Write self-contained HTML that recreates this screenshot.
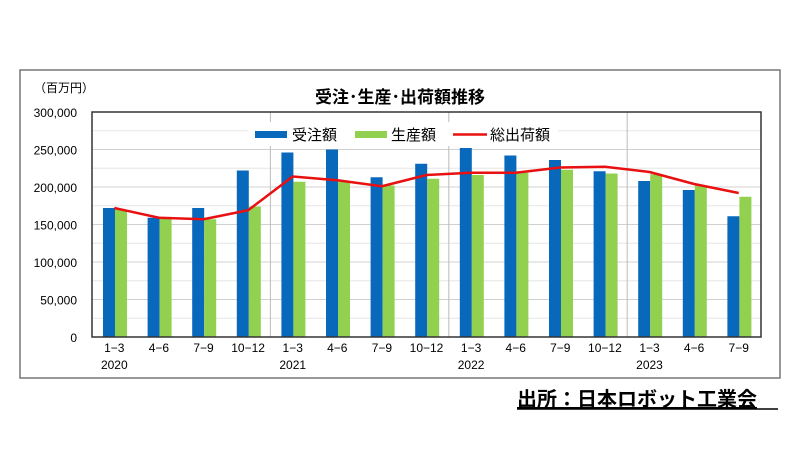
<!DOCTYPE html>
<html><head><meta charset="utf-8"><style>
body{margin:0;background:#fff;width:800px;height:449px;overflow:hidden;font-family:"Liberation Sans","Noto Sans CJK JP",sans-serif;}
svg text{font-family:"Liberation Sans","Noto Sans CJK JP",sans-serif;}
</style></head><body>
<svg width="800" height="449">
<rect x="20" y="70" width="760" height="308" fill="#fff" stroke="#777" stroke-width="1.5"/>
<text x="400" y="103" text-anchor="middle" font-size="17" font-weight="bold">受注･生産･出荷額推移</text>
<text x="34" y="92" font-size="12">（百万円）</text>
<g id="grid"></g>
<g id="bars"></g>
<rect x="248" y="122" width="310" height="24" fill="#fff"/>
<g id="line"></g>
<rect x="92" y="112" width="669" height="225" fill="none" stroke="#333" stroke-width="1.5"/>
<g id="axis"></g>
<g>
<rect x="255" y="131" width="32" height="7" fill="#0868BB"/>
<text x="292" y="140" font-size="15">受注額</text>
<rect x="355" y="131" width="32" height="7" fill="#92D050"/>
<text x="391" y="140" font-size="15">生産額</text>
<line x1="453" y1="134.5" x2="487" y2="134.5" stroke="#E81010" stroke-width="2.5"/>
<text x="490" y="140" font-size="15">総出荷額</text>
</g>
<text x="517" y="406" font-size="20" font-weight="bold" text-decoration="underline">出所：日本ロボット工業会</text>
<line x1="517" y1="409" x2="778" y2="409" stroke="#000" stroke-width="1.5"/>
</svg>
<script>
const categories=["1-3","4-6","7-9","10-12","1-3","4-6","7-9","10-12","1-3","4-6","7-9","10-12","1-3","4-6","7-9"];
const years=["2020","2021","2022","2023"];
const orders=[172,159,172,222,246,250,213,231,252,242,236,221,208,196,161];
const production=[170,158,157,174,207,207,202,211,216,219,223,218,217,202,187];
const shipments=[172,159,157,169,214,209,201,216,219,219,226,227,220,204,192];
const yTicks=[0,50000,100000,150000,200000,250000,300000];
const NS="http://www.w3.org/2000/svg";
const L=92,R=761,T=112,B=337,MAX=300;
const cw=(R-L)/categories.length;
const y=v=>B-(v/MAX)*(B-T);
const xc=i=>L+cw*i;
function mk(t,a,p){const e=document.createElementNS(NS,t);for(const k in a)e.setAttribute(k,a[k]);p.appendChild(e);return e;}
const grid=document.getElementById('grid'),bars=document.getElementById('bars'),line=document.getElementById('line'),axis=document.getElementById('axis');
for(let v=25;v<300;v+=25){const g=mk('line',{x1:L,x2:R,y1:y(v),y2:y(v),stroke:v%50?'#e6e6e6':'#d0d0d0','stroke-width':1},grid);

}
for(let i=4;i<categories.length;i+=4){const s=mk('line',{x1:xc(i),x2:xc(i),y1:T,y2:B,stroke:'#bbb','stroke-width':1},grid);

}
yTicks.forEach(v=>{const t=mk('text',{x:77,y:y(v/1000)+5,'text-anchor':'end','font-size':12},axis);t.textContent=v.toLocaleString('en-US');

});
categories.forEach((c,i)=>{
const b=mk('rect',{x:xc(i)+11,y:y(orders[i]),width:12,height:B-y(orders[i]),fill:'#0868BB'},bars);


const g=mk('rect',{x:xc(i)+23,y:y(production[i]),width:12,height:B-y(production[i]),fill:'#92D050'},bars);


const t=mk('text',{x:xc(i)+cw/2,y:352,'text-anchor':'middle','font-size':12},axis);t.textContent=c.replace('-','−');


});
years.forEach((yr,k)=>{const t=mk('text',{x:xc(k*4)+cw/2,y:369,'text-anchor':'middle','font-size':12},axis);t.textContent=yr;

});
const pts=shipments.map((v,i)=>(xc(i)+cw/2)+','+y(v)).join(' ');
const pl=mk('polyline',{points:pts,fill:'none',stroke:'#E81010','stroke-width':2.5,'stroke-linejoin':'round'},line);


</script>
</body></html>
